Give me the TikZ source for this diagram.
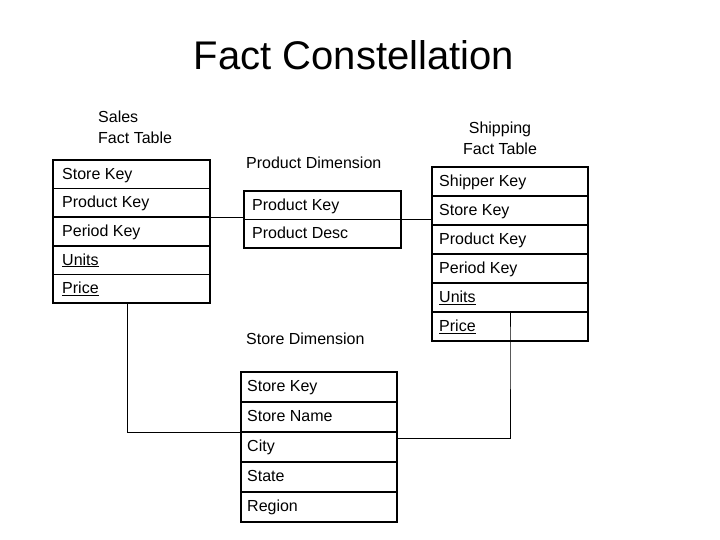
\documentclass[tikz,border=0pt]{standalone}
\usepackage{fontspec}
\setmainfont{Liberation Sans}
\begin{document}
\begin{tikzpicture}[x=1pt,y=-1pt,
  row/.style={draw,line width=1.6pt,anchor=north west,minimum height=#1,inner sep=0pt,outer sep=0pt},
  rowtxt/.style={anchor=west,inner sep=0pt,text height=11pt,text depth=3pt,font=\fontsize{16}{18}\selectfont},
  lbl/.style={font=\fontsize{16}{21}\selectfont,align=left,inner sep=0pt},
  conn/.style={line width=1pt}]
\useasboundingbox (0,0) rectangle (720,540);
\node[font=\fontsize{40}{46}\selectfont] (title) at (354,55) {Fact Constellation};
% Sales
\node[lbl,anchor=north west] (slbl) at (98,111) {Sales\\Fact Table};
\foreach \n/\t/\y in {s1/Store Key/160,s2/Product Key/188.6,s3/Period Key/217.2,s4/\underline{Units}/245.8,s5/\underline{Price}/274.4}{
  \node[row=28.6pt,minimum width=157pt] (\n) at (53,\y) {};
  \node[rowtxt] at ([xshift=9pt,yshift=-1pt]\n.west) {\t};
}
% Product
\node[lbl,anchor=west] (plbl) at (246,163) {Product Dimension};
\foreach \n/\t/\y in {p1/Product Key/191,p2/Product Desc/219.5}{
  \node[row=28.5pt,minimum width=157pt] (\n) at (244,\y) {};
  \node[rowtxt] at ([xshift=8pt,yshift=-1pt]\n.west) {\t};
}
% Shipping
\node[lbl,align=center] (hlbl) at (500,138) {Shipping\\Fact Table};
\foreach \n/\t/\y in {h1/Shipper Key/167,h2/Store Key/196,h3/Product Key/225,h4/Period Key/254,h5/\underline{Units}/283,h6/\underline{Price}/312}{
  \node[row=29pt,minimum width=156pt] (\n) at (432,\y) {};
  \node[rowtxt] at ([xshift=7pt,yshift=-1pt]\n.west) {\t};
}
% Store
\node[lbl,anchor=west] (dlbl) at (246,339) {Store Dimension};
\foreach \n/\t/\y in {d1/Store Key/372,d2/Store Name/402,d3/City/432,d4/State/462,d5/Region/492}{
  \node[row=30pt,minimum width=156pt] (\n) at (241,\y) {};
  \node[rowtxt] at ([xshift=6pt]\n.west) {\t};
}
% connectors
\draw[conn] (s2.south east) -- (s2.south east -| p1.west);
\draw[conn] (p2.north east) -- (p2.north east -| h3.west);
\draw[conn] ([xshift=-4.5pt]s5.south) |- (d3.north west);
\draw[conn] (h6.north) -- (h6.south) |- ([yshift=-6pt]d3.north east);
\end{tikzpicture}
\end{document}
